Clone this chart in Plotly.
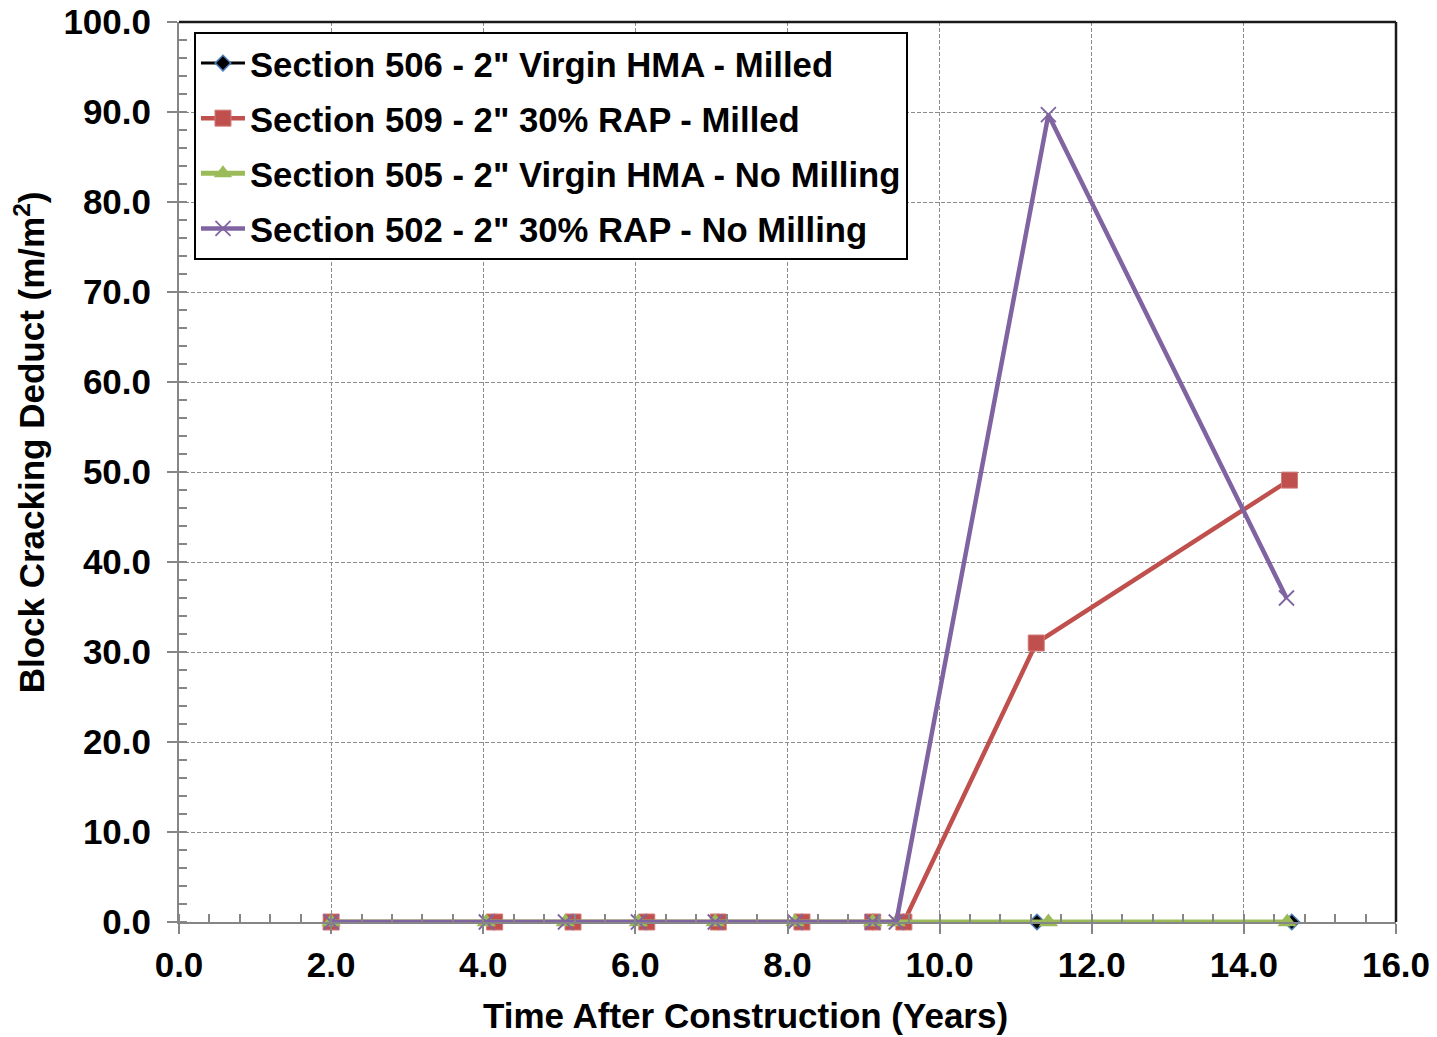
import plotly.graph_objects as go

# ---- data ----
x_506 = [2.0, 4.15, 5.18, 6.15, 7.09, 8.19, 9.12, 9.53, 11.28, 14.63]
y_506 = [0, 0, 0, 0, 0, 0, 0, 0, 0, 0]
x_509 = [2.0, 4.15, 5.18, 6.15, 7.09, 8.19, 9.12, 9.53, 11.27, 14.6]
y_509 = [0, 0, 0, 0, 0, 0, 0, 0, 31.0, 49.1]
x_505 = [2.0, 4.04, 5.08, 6.04, 7.05, 8.1, 9.12, 9.43, 11.43, 14.57]
y_505 = [0, 0, 0, 0, 0, 0, 0, 0, 0, 0]
x_502 = [2.0, 4.04, 5.08, 6.04, 7.05, 8.1, 9.12, 9.43, 11.43, 14.56]
y_502 = [0, 0, 0, 0, 0, 0, 0, 0, 89.7, 36.0]

names = [
    'Section 506 - 2" Virgin HMA - Milled',
    'Section 509 - 2" 30% RAP - Milled',
    'Section 505 - 2" Virgin HMA - No Milling',
    'Section 502 - 2" 30% RAP - No Milling',
]

x_title = "Time After Construction (Years)"
y_title = "Block Cracking Deduct (m/m<sup>2</sup>)"

FONT = "Liberation Sans, Arial, sans-serif"
FS = 35

fig = go.Figure()
fig.add_trace(go.Scatter(
    x=x_506, y=y_506, name=names[0], mode="lines+markers", legendgroup="a",
    cliponaxis=False,
    line=dict(color="#000000", width=3),
    marker=dict(symbol="diamond", size=12, color="#000000",
                line=dict(color="#4A7EBB", width=1.5)),
))
fig.add_trace(go.Scatter(
    x=x_509, y=y_509, name=names[1], mode="lines+markers", legendgroup="b",
    cliponaxis=False,
    line=dict(color="#C0504D", width=4.5),
    marker=dict(symbol="square", size=16, color="#C0504D",
                line=dict(color="#D27C79", width=1)),
))
fig.add_trace(go.Scatter(
    x=x_505, y=y_505, name=names[2], mode="lines+markers", legendgroup="c",
    cliponaxis=False,
    line=dict(color="#9BBB59", width=5),
    marker=dict(symbol="triangle-up", size=17, color="#9BBB59"),
))
fig.add_trace(go.Scatter(
    x=x_502, y=y_502, name=names[3], mode="lines+markers", legendgroup="d",
    cliponaxis=False,
    line=dict(color="#8064A2", width=4.5),
    marker=dict(symbol="x-thin", size=15, color="#8064A2",
                line=dict(color="#8064A2", width=1.8)),
))

axis_common = dict(
    showline=True, linecolor="#868686", linewidth=2,
    showgrid=True, gridcolor="#8C8C8C", gridwidth=1, griddash="4px,2px",
    ticks="outside", ticklen=10, tickwidth=2, tickcolor="#868686",
    tickfont=dict(family=FONT, size=FS, color="#000000", weight="bold"),
    tickformat=".1f", zeroline=False, automargin=False,
    ticklabeloverflow="allow",
)

fig.update_xaxes(
    range=[0, 16], dtick=2, tick0=0,
    minor=dict(dtick=0.4, ticks="inside", ticklen=8, tickwidth=1.5,
               tickcolor="#868686", showgrid=False),
    ticklabelstandoff=1,
    **axis_common,
)
fig.update_yaxes(
    range=[0, 100], dtick=10, tick0=0,
    minor=dict(dtick=2, ticks="inside", ticklen=8, tickwidth=1.5,
               tickcolor="#868686", showgrid=False),
    ticklabelstandoff=9,
    **axis_common,
)

# dark border on top and right of plot area
fig.add_shape(type="line", xref="paper", yref="paper", x0=0, x1=1, y0=1, y1=1,
              line=dict(color="#1A1A1A", width=2.5))
fig.add_shape(type="line", xref="paper", yref="paper", x0=1, x1=1, y0=0, y1=1,
              line=dict(color="#1A1A1A", width=2.5))

fig.add_annotation(text=x_title, xref="paper", yref="paper",
                   x=0.4655, y=-0.1044, xanchor="center", yanchor="middle",
                   showarrow=False,
                   font=dict(family=FONT, size=FS, color="#000000", weight="bold"))
fig.add_annotation(text=y_title, xref="paper", yref="paper",
                   x=-0.1224, y=0.533, xanchor="center", yanchor="middle",
                   textangle=-90, showarrow=False,
                   font=dict(family=FONT, size=FS, color="#000000", weight="bold"))

# page body has an 8px margin: shrink the figure so the plot lands in place
fig.update_layout(
    width=1429, height=1029,
    margin=dict(l=171, r=41, t=14, b=115),
    paper_bgcolor="#FFFFFF", plot_bgcolor="#FFFFFF",
    showlegend=True,
    legend=dict(
        x=0.0123, y=0.9889, xanchor="left", yanchor="top",
        bgcolor="#FFFFFF", bordercolor="#000000", borderwidth=2,
        font=dict(family=FONT, size=34.7, color="#000000", weight="bold"),
        traceorder="grouped", tracegroupgap=7, itemwidth=44,
    ),
)

fig.write_html("out.html")
